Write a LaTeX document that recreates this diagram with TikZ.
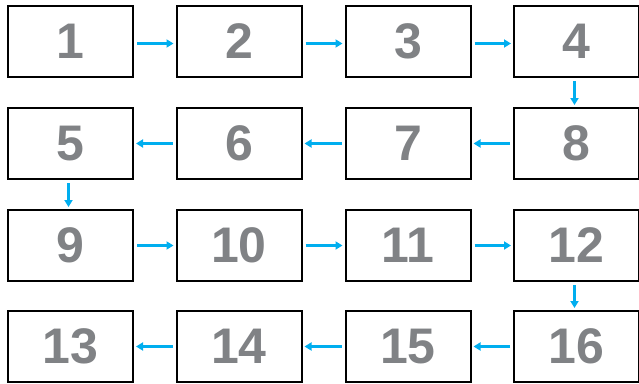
\documentclass[tikz,border=0pt]{standalone}
\usepackage{fontspec}
\setsansfont{Liberation Sans}
\usetikzlibrary{arrows.meta}
\definecolor{cblue}{HTML}{00AEEF}
\definecolor{cgrey}{HTML}{808285}
\tikzset{
  every picture/.style={font=\sffamily},
  tile/.style={draw=black, fill=white, line width=2pt, minimum width=125pt, minimum height=71pt,
    inner sep=0pt, font=\sffamily\bfseries\fontsize{50}{50}\selectfont, text=cgrey},
  arrow/.style={-{Triangle[length=7pt, width=8pt]}, draw=cblue, line width=3pt,
    shorten <=3pt, shorten >=2pt},
}

\begin{document}
\begin{tikzpicture}[x=1pt, y=-1pt]
  \useasboundingbox (0,0) rectangle (639,383);

  \node[tile] (t1) at (70.5,41.5) {\raisebox{-2pt}{1}};
  \node[tile] (t2) at (239,41.5) {\raisebox{-2pt}{2}};
  \node[tile] (t3) at (408,41.5) {\raisebox{-2pt}{3}};
  \node[tile] (t4) at (576.5,41.5) {\raisebox{-2pt}{4}};

  \node[tile] (t5) at (70.5,143.5) {\raisebox{-2pt}{5}};
  \node[tile] (t6) at (239,143.5) {\raisebox{-2pt}{6}};
  \node[tile] (t7) at (408,143.5) {\raisebox{-2pt}{7}};
  \node[tile] (t8) at (576.5,143.5) {\raisebox{-2pt}{8}};

  \node[tile] (t9) at (70.5,245.5) {\raisebox{-2pt}{9}};
  \node[tile] (t10) at (239,245.5) {\raisebox{-2pt}{10}};
  \node[tile] (t11) at (408,245.5) {\raisebox{-2pt}{11}};
  \node[tile] (t12) at (576.5,245.5) {\raisebox{-2pt}{12}};

  \node[tile] (t13) at (70.5,346.5) {\raisebox{-2pt}{13}};
  \node[tile] (t14) at (239,346.5) {\raisebox{-2pt}{14}};
  \node[tile] (t15) at (408,346.5) {\raisebox{-2pt}{15}};
  \node[tile] (t16) at (576.5,346.5) {\raisebox{-2pt}{16}};

  % left to right
  \draw[arrow] ([yshift=-2pt]t1.east) -- ([yshift=-2pt]t2.west);
  \draw[arrow] ([yshift=-2pt]t2.east) -- ([yshift=-2pt]t3.west);
  \draw[arrow] ([yshift=-2pt]t3.east) -- ([yshift=-2pt]t4.west);
  \draw[arrow] ([xshift=-2pt]t4.south) -- ([xshift=-2pt]t8.north);
  % right to left
  \draw[arrow] (t8.west) -- (t7.east);
  \draw[arrow] (t7.west) -- (t6.east);
  \draw[arrow] (t6.west) -- (t5.east);
  \draw[arrow] ([xshift=-2pt]t5.south) -- ([xshift=-2pt]t9.north);
  % left to right
  \draw[arrow] (t9.east) -- (t10.west);
  \draw[arrow] (t10.east) -- (t11.west);
  \draw[arrow] (t11.east) -- (t12.west);
  \draw[arrow] ([xshift=-2pt]t12.south) -- ([xshift=-2pt]t16.north);
  % right to left
  \draw[arrow] (t16.west) -- (t15.east);
  \draw[arrow] (t15.west) -- (t14.east);
  \draw[arrow] (t14.west) -- (t13.east);
\end{tikzpicture}
\end{document}
